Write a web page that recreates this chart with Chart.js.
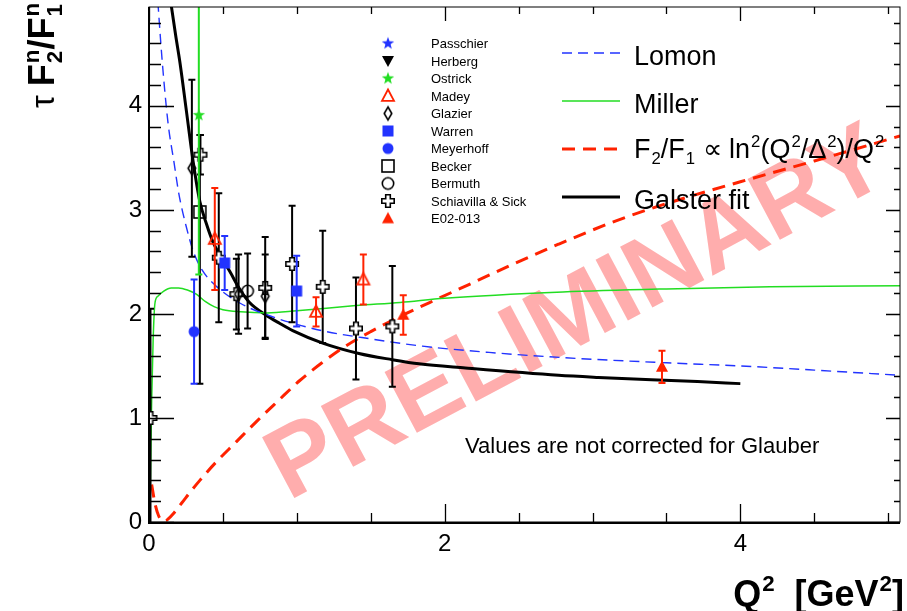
<!DOCTYPE html>
<html>
<head>
<meta charset="utf-8">
<script src="https://cdn.jsdelivr.net/npm/chart.js@4.4.1/dist/chart.umd.min.js"></script>
<style>
  html, body { margin: 0; padding: 0; background: #ffffff; }
  #wrap { width: 907px; height: 611px; }
</style>
</head>
<body>
<div id="wrap"><canvas id="chart" width="907" height="611"></canvas></div>
<script>
// ---------- axis ranges and tick labels ----------
const xRange = [0, 5.08];
const yRange = [0, 4.95];
const xTickValues = [0, 2, 4];
const yTickValues = [0, 1, 2, 3, 4];

// ---------- measurements: Q^2 [GeV^2], tau F2/F1, uncertainty ----------
const passchierQ2 = [];            const passchierVal = [];            const passchierErr = [];
const herbergQ2 = [];              const herbergVal = [];              const herbergErr = [];
const ostrickQ2 = [0.337];         const ostrickVal = [3.91];          const ostrickErr = [1.53];
const madeyQ2 = [0.445, 1.13, 1.45];
const madeyVal = [2.72, 2.02, 2.33];
const madeyErr = [0.49, 0.14, 0.24];
const glazierQ2 = [0.29, 0.606, 0.786];
const glazierVal = [3.40, 2.19, 2.17];
const glazierErr = [0.85, 0.38, 0.40];
const warrenQ2 = [0.512, 0.999];
const warrenVal = [2.49, 2.22];
const warrenErr = [0.26, 0.34];
const meyerhoffQ2 = [0.305];       const meyerhoffVal = [1.83];        const meyerhoffErr = [0.50];
const beckerQ2 = [0.344];          const beckerVal = [2.98];
const beckerErrLow = [1.65];       const beckerErrHigh = [0.74];
const bermuthQ2 = [0.667];         const bermuthVal = [2.22];          const bermuthErr = [0.36];
const schiavillaQ2 = [0.01, 0.348, 0.472, 0.591, 0.786, 0.968, 1.175, 1.40, 1.646];
const schiavillaVal = [1.00, 3.53, 2.54, 2.19, 2.25, 2.48, 2.26, 1.86, 1.88];
const schiavillaErr = [1.05, 0.19, 0.62, 0.34, 0.49, 0.56, 0.54, 0.49, 0.58];
const e02013Q2 = [1.72, 3.47];
const e02013Val = [1.99, 1.49];
const e02013Err = [0.19, 0.155];

// ---------- model curves ----------
const lomonQ2 = [0.06, 0.08, 0.10, 0.13, 0.17, 0.20, 0.25, 0.30, 0.36, 0.46, 0.62, 0.80, 1.0, 1.2, 1.5, 1.85, 2.3, 2.8, 3.5, 4.0, 4.5, 5.08];
const lomonVal = [5.0, 4.6, 4.25, 3.82, 3.45, 3.17, 2.85, 2.6, 2.42, 2.26, 2.10, 1.99, 1.90, 1.83, 1.76, 1.69, 1.63, 1.58, 1.53, 1.50, 1.46, 1.41];

const millerQ2 = [0.005, 0.012, 0.018, 0.028, 0.04, 0.06, 0.10, 0.15, 0.20, 0.26, 0.32, 0.38, 0.44, 0.50, 0.62, 0.80, 1.0, 1.4, 1.7, 2.0, 2.8, 3.5, 4.2, 5.08];
const millerVal = [0.0, 0.6, 1.17, 1.75, 2.1, 2.17, 2.22, 2.25, 2.25, 2.23, 2.19, 2.12, 2.07, 2.04, 2.02, 2.01, 2.03, 2.08, 2.11, 2.15, 2.21, 2.24, 2.26, 2.27];

const scalingQ2 = [0.018, 0.04, 0.065, 0.09, 0.11, 0.13, 0.164, 0.22, 0.28, 0.344, 0.45, 0.59, 0.73, 0.87, 1.02, 1.17, 1.33, 1.5, 1.69, 1.96, 2.16, 2.45, 2.77, 3.15, 3.5, 4.0, 4.5, 5.08];
const scalingVal = [0.36, 0.18, 0.06, 0.015, 0.01, 0.03, 0.08, 0.18, 0.29, 0.40, 0.57, 0.77, 0.97, 1.16, 1.36, 1.53, 1.69, 1.83, 1.97, 2.15, 2.28, 2.47, 2.67, 2.89, 3.06, 3.27, 3.47, 3.71];

const galsterQ2 = [0.15, 0.18, 0.21, 0.254, 0.299, 0.344, 0.39, 0.433, 0.478, 0.546, 0.613, 0.68, 0.79, 0.883, 0.972, 1.175, 1.42, 1.646, 1.826, 2.14, 2.77, 3.04, 3.71, 4.0];
const galsterVal = [4.97, 4.68, 4.41, 3.94, 3.46, 3.08, 2.86, 2.69, 2.57, 2.41, 2.24, 2.11, 1.99, 1.91, 1.84, 1.72, 1.62, 1.56, 1.52, 1.48, 1.41, 1.39, 1.35, 1.33];

// ---------- styling ----------
const FONT = '"Liberation Sans", Arial, Helvetica, sans-serif';
const BLUE = '#2233ff';
const GREEN = '#22dd22';
const RED = '#ff2200';
const BLACK = '#000000';

function makeMarker(draw) {
  const s = 18;
  const c = document.createElement('canvas');
  c.width = s; c.height = s;
  const g = c.getContext('2d');
  g.translate(s / 2, s / 2);
  draw(g);
  return c;
}
function starPath(g, ro, ri) {
  g.beginPath();
  for (let k = 0; k < 10; k++) {
    const r = k % 2 ? ri : ro;
    const a = -Math.PI / 2 + k * Math.PI / 5;
    g.lineTo(r * Math.cos(a), r * Math.sin(a));
  }
  g.closePath();
}
const shapes = {
  star: c => makeMarker(g => { starPath(g, 6.5, 2.7); g.fillStyle = c; g.fill(); }),
  downTriangle: c => makeMarker(g => { g.beginPath(); g.moveTo(-6, -5); g.lineTo(6, -5); g.lineTo(0, 6); g.closePath(); g.fillStyle = c; g.fill(); }),
  openTriangle: c => makeMarker(g => { g.beginPath(); g.moveTo(0, -6.5); g.lineTo(6, 4.8); g.lineTo(-6, 4.8); g.closePath(); g.strokeStyle = c; g.lineWidth = 1.8; g.stroke(); }),
  triangle: c => makeMarker(g => { g.beginPath(); g.moveTo(0, -6.5); g.lineTo(6, 4.8); g.lineTo(-6, 4.8); g.closePath(); g.fillStyle = c; g.fill(); }),
  openDiamond: c => makeMarker(g => { g.beginPath(); g.moveTo(0, -6.5); g.lineTo(3.8, 0); g.lineTo(0, 6.5); g.lineTo(-3.8, 0); g.closePath(); g.strokeStyle = c; g.lineWidth = 1.6; g.stroke(); }),
  square: c => makeMarker(g => { g.fillStyle = c; g.fillRect(-5.5, -5.5, 11, 11); }),
  circle: c => makeMarker(g => { g.beginPath(); g.arc(0, 0, 5.5, 0, Math.PI * 2); g.fillStyle = c; g.fill(); }),
  openSquare: c => makeMarker(g => { g.strokeStyle = c; g.lineWidth = 1.6; g.strokeRect(-6, -6, 12, 12); }),
  openCircle: c => makeMarker(g => { g.beginPath(); g.arc(0, 0, 5.7, 0, Math.PI * 2); g.strokeStyle = c; g.lineWidth = 1.6; g.stroke(); }),
  openCross: c => makeMarker(g => {
    const a = 2.3, b = 6.2;
    g.beginPath();
    g.moveTo(-a, -b); g.lineTo(a, -b); g.lineTo(a, -a); g.lineTo(b, -a); g.lineTo(b, a); g.lineTo(a, a);
    g.lineTo(a, b); g.lineTo(-a, b); g.lineTo(-a, a); g.lineTo(-b, a); g.lineTo(-b, -a); g.lineTo(-a, -a);
    g.closePath(); g.fillStyle = '#ffffff'; g.fill(); g.strokeStyle = c; g.lineWidth = 1.6; g.stroke();
  })
};

function markerSet(label, q2, val, errLow, errHigh, shape, color) {
  return {
    label, type: 'scatter', kind: 'marker',
    data: q2.map((q, i) => ({ x: q, y: val[i] })),
    errLow, errHigh, errColor: color,
    pointStyle: shapes[shape](color), pointRadius: 6, pointHoverRadius: 6,
    order: 1
  };
}
function curveSet(label, q2, val, color, width, dash) {
  return {
    label, type: 'line', kind: 'curve',
    data: q2.map((q, i) => ({ x: q, y: val[i] })),
    borderColor: color, borderWidth: width, borderDash: dash,
    pointRadius: 0, fill: false, cubicInterpolationMode: 'monotone',
    order: 5
  };
}

const markerSets = [
  markerSet('Passchier', passchierQ2, passchierVal, passchierErr, passchierErr, 'star', BLUE),
  markerSet('Herberg', herbergQ2, herbergVal, herbergErr, herbergErr, 'downTriangle', BLACK),
  markerSet('Ostrick', ostrickQ2, ostrickVal, ostrickErr, ostrickErr, 'star', GREEN),
  markerSet('Madey', madeyQ2, madeyVal, madeyErr, madeyErr, 'openTriangle', RED),
  markerSet('Glazier', glazierQ2, glazierVal, glazierErr, glazierErr, 'openDiamond', BLACK),
  markerSet('Warren', warrenQ2, warrenVal, warrenErr, warrenErr, 'square', BLUE),
  markerSet('Meyerhoff', meyerhoffQ2, meyerhoffVal, meyerhoffErr, meyerhoffErr, 'circle', BLUE),
  markerSet('Becker', beckerQ2, beckerVal, beckerErrLow, beckerErrHigh, 'openSquare', BLACK),
  markerSet('Bermuth', bermuthQ2, bermuthVal, bermuthErr, bermuthErr, 'openCircle', BLACK),
  markerSet('Schiavilla & Sick', schiavillaQ2, schiavillaVal, schiavillaErr, schiavillaErr, 'openCross', BLACK),
  markerSet('E02-013', e02013Q2, e02013Val, e02013Err, e02013Err, 'triangle', RED)
];
const curveSets = [
  curveSet('Lomon', lomonQ2, lomonVal, BLUE, 1.4, [10, 6]),
  curveSet('Miller', millerQ2, millerVal, GREEN, 1.5, []),
  curveSet('scaling', scalingQ2, scalingVal, RED, 3, [13, 8]),
  curveSet('Galster fit', galsterQ2, galsterVal, BLACK, 3, [])
];

// ---------- rich text (sub/superscripts) ----------
function setFont(ctx, size, bold) { ctx.font = (bold ? 'bold ' : '') + size + 'px ' + FONT; }
function richWidth(ctx, parts, size, bold) {
  let w = 0;
  for (const p of parts) {
    if (p.t !== undefined) { setFont(ctx, size, bold); w += ctx.measureText(p.t).width; }
    else {
      setFont(ctx, size * 0.62, bold);
      w += Math.max(ctx.measureText(p.sup || '').width, ctx.measureText(p.sub || '').width) + 1;
    }
  }
  return w;
}
function drawRich(ctx, parts, x, y, size, bold) {
  ctx.textAlign = 'left';
  ctx.textBaseline = 'alphabetic';
  for (const p of parts) {
    if (p.t !== undefined) {
      setFont(ctx, p.plain ? size * 0.9 : size, p.plain ? false : bold);
      ctx.fillText(p.t, x, y);
      x += ctx.measureText(p.t).width;
    } else {
      setFont(ctx, size * 0.62, bold);
      let w = 0;
      if (p.sup) { ctx.fillText(p.sup, x + 1, y - size * 0.42); w = Math.max(w, ctx.measureText(p.sup).width); }
      if (p.sub) { ctx.fillText(p.sub, x + 1, y + size * 0.22); w = Math.max(w, ctx.measureText(p.sub).width); }
      x += w + 1;
    }
  }
}

// ---------- plugins ----------
const background = {
  id: 'background',
  beforeDraw(chart) {
    const { ctx, width, height } = chart;
    ctx.save(); ctx.fillStyle = '#ffffff'; ctx.fillRect(0, 0, width, height); ctx.restore();
  }
};

const watermark = {
  id: 'watermark',
  beforeDatasetsDraw(chart) {
    const { ctx } = chart;
    ctx.save();
    ctx.translate(578, 316);
    ctx.rotate(-28 * Math.PI / 180);
    ctx.font = 'bold 100px ' + FONT;
    ctx.fillStyle = '#ffadad';
    ctx.textAlign = 'center';
    ctx.textBaseline = 'middle';
    ctx.fillText('PRELIMINARY', 0, 0);
    ctx.restore();
  }
};

const errorBars = {
  id: 'errorBars',
  beforeDatasetDraw(chart, args) {
    const ds = chart.data.datasets[args.index];
    if (ds.kind !== 'marker') return;
    const { ctx, chartArea: a, scales: { x, y } } = chart;
    ctx.save();
    ctx.beginPath(); ctx.rect(a.left, a.top, a.right - a.left, a.bottom - a.top); ctx.clip();
    ctx.strokeStyle = ds.errColor; ctx.lineWidth = 2;
    ds.data.forEach((p, i) => {
      const px = x.getPixelForValue(p.x);
      const lo = y.getPixelForValue(p.y - ds.errLow[i]);
      const hi = y.getPixelForValue(p.y + ds.errHigh[i]);
      ctx.beginPath();
      ctx.moveTo(px, lo); ctx.lineTo(px, hi);
      ctx.moveTo(px - 3.5, lo); ctx.lineTo(px + 3.5, lo);
      ctx.moveTo(px - 3.5, hi); ctx.lineTo(px + 3.5, hi);
      ctx.stroke();
    });
    ctx.restore();
  }
};

const frame = {
  id: 'frame',
  afterDatasetsDraw(chart) {
    const { ctx, chartArea: a, scales: { x, y } } = chart;
    ctx.save();
    ctx.strokeStyle = '#000';
    ctx.lineWidth = 1;
    ctx.strokeRect(a.left, a.top, a.right - a.left, a.bottom - a.top);
    ctx.lineWidth = 2;
    ctx.beginPath();
    ctx.moveTo(a.left, a.top); ctx.lineTo(a.left, a.bottom + 1); ctx.lineTo(a.right, a.bottom + 1);
    ctx.stroke();
    ctx.lineWidth = 1.3;
    ctx.beginPath();
    // y ticks: every 0.2, majors at integers
    for (let i = 0; i * 0.2 <= yRange[1] + 1e-9; i++) {
      const v = +(i * 0.2).toFixed(2);
      const py = Math.round(y.getPixelForValue(v)) + 0.5;
      const major = i % 5 === 0;
      ctx.moveTo(a.left, py); ctx.lineTo(a.left + (major ? 25 : 12), py);
      ctx.moveTo(a.right, py); ctx.lineTo(a.right - (major ? 14 : 6), py);
    }
    // x ticks: every 0.5, majors at 0, 2, 4
    for (let i = 0; i * 0.5 <= xRange[1] + 1e-9; i++) {
      const v = i * 0.5;
      const px = Math.round(x.getPixelForValue(v)) + 0.5;
      const major = i % 4 === 0;
      ctx.moveTo(px, a.bottom); ctx.lineTo(px, a.bottom - (major ? 18 : 9));
      ctx.moveTo(px, a.top); ctx.lineTo(px, a.top + (major ? 14 : 7));
    }
    ctx.stroke();
    ctx.restore();
  }
};

const annotations = {
  id: 'annotations',
  afterDraw(chart) {
    const { ctx } = chart;
    ctx.save();
    ctx.fillStyle = '#000';

    // marker legend
    const rowY0 = 43.5, rowStep = 17.5;
    markerSets.forEach((ds, i) => {
      const yy = rowY0 + i * rowStep;
      const img = ds.pointStyle;
      ctx.drawImage(img, 388 - img.width / 2, yy - img.height / 2);
      setFont(ctx, 13, false);
      ctx.textAlign = 'left'; ctx.textBaseline = 'middle';
      ctx.fillStyle = '#000';
      ctx.fillText(ds.label, 431, yy + 1);
    });

    // curve legend
    const lineRows = [53, 101, 149, 197];
    curveSets.forEach((ds, i) => {
      const yy = lineRows[i];
      ctx.save();
      ctx.strokeStyle = ds.borderColor;
      ctx.lineWidth = ds.borderWidth;
      ctx.setLineDash(ds.borderDash);
      ctx.beginPath(); ctx.moveTo(562, yy); ctx.lineTo(620, yy); ctx.stroke();
      ctx.restore();
    });
    ctx.fillStyle = '#000';
    drawRich(ctx, [{ t: 'Lomon' }], 634, 65, 27, false);
    drawRich(ctx, [{ t: 'Miller' }], 634, 113, 27, false);
    drawRich(ctx, [
      { t: 'F' }, { sub: '2' }, { t: '/F' }, { sub: '1' }, { t: ' \u221D ln' }, { sup: '2' },
      { t: '(Q' }, { sup: '2' }, { t: '/\u0394' }, { sup: '2' }, { t: ')/Q' }, { sup: '2' }
    ], 634, 158, 27, false);
    drawRich(ctx, [{ t: 'Galster fit' }], 634, 209, 27, false);

    // note
    setFont(ctx, 22, false);
    ctx.textAlign = 'left'; ctx.textBaseline = 'alphabetic';
    ctx.fillText('Values are not corrected for Glauber', 465, 453);

    // x-axis title
    const xParts = [{ t: 'Q' }, { sup: '2' }, { t: '  [GeV' }, { sup: '2' }, { t: ']' }];
    const xw = richWidth(ctx, xParts, 36, true);
    drawRich(ctx, xParts, 904 - xw, 606, 36, true);

    // y-axis title
    ctx.save();
    ctx.translate(54, 108);
    ctx.rotate(-Math.PI / 2);
    drawRich(ctx, [
      { t: '\u03C4 ', plain: true }, { t: 'F' }, { sup: 'n', sub: '2' }, { t: '/F' }, { sup: 'n', sub: '1' }
    ], 0, 0, 36, true);
    ctx.restore();

    ctx.restore();
  }
};

// ---------- chart ----------
new Chart(document.getElementById('chart'), {
  type: 'scatter',
  data: { datasets: [...markerSets, ...curveSets] },
  options: {
    responsive: false,
    animation: false,
    devicePixelRatio: 1,
    layout: { padding: { left: 0, right: 4, top: 3, bottom: 0 } },
    plugins: { legend: { display: false }, tooltip: { enabled: false } },
    scales: {
      x: {
        type: 'linear', min: xRange[0], max: xRange[1],
        grid: { display: false, drawTicks: false }, border: { display: false },
        afterBuildTicks(s) { s.ticks = xTickValues.map(v => ({ value: v })); },
        ticks: {
          color: '#000', font: { family: FONT, size: 24 }, padding: 8,
          maxRotation: 0, autoSkip: false, callback: v => String(v)
        },
        afterFit(s) { s.height = 611 - 522; s.paddingLeft = 0; s.paddingRight = 0; }
      },
      y: {
        type: 'linear', min: yRange[0], max: yRange[1],
        grid: { display: false, drawTicks: false }, border: { display: false },
        afterBuildTicks(s) { s.ticks = yTickValues.map(v => ({ value: v })); },
        ticks: {
          color: '#000', font: { family: FONT, size: 24 }, padding: 7,
          autoSkip: false, callback: v => String(v)
        },
        afterFit(s) { s.width = 149; s.paddingTop = 0; s.paddingBottom = 0; }
      }
    }
  },
  plugins: [background, watermark, errorBars, frame, annotations]
});
</script>
</body>
</html>
